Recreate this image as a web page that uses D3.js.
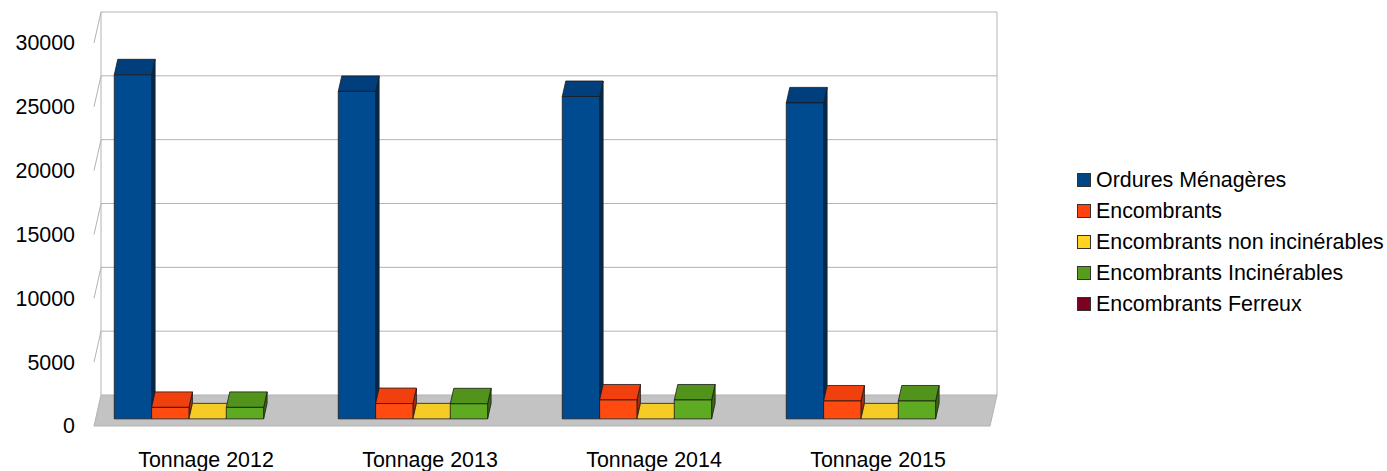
<!DOCTYPE html>
<html>
<head>
<meta charset="utf-8">
<script src="https://cdn.jsdelivr.net/npm/d3@7"></script>
<style>
  html, body { margin: 0; padding: 0; background: #ffffff; }
  svg { display: block; }
  text { font-family: "Liberation Sans", Arial, sans-serif; fill: #000; }
</style>
</head>
<body>
<svg id="chart" width="1387" height="471"></svg>
<script>
const categories = ["Tonnage 2012", "Tonnage 2013", "Tonnage 2014", "Tonnage 2015"];
const seriesNames = ["Ordures Ménagères", "Encombrants", "Encombrants non incinérables", "Encombrants Incinérables", "Encombrants Ferreux"];
const ordures = [26950, 25650, 25250, 24750];
const encombrants = [900, 1200, 1480, 1400];
const nonIncinerables = [0, 0, 0, 0];
const incinerables = [900, 1180, 1480, 1400];
const ferreux = [null, null, null, null];
const yTicks = [0, 5000, 10000, 15000, 20000, 25000, 30000];
const seriesColors = ["#004586", "#ff420e", "#ffd320", "#579d1c", "#7e0021"];

const seriesValues = [ordures, encombrants, nonIncinerables, incinerables, ferreux];

const svg = d3.select("#chart");

// front plane geometry & depth projection
const DX = 7, DY = 31;
const x = d3.scaleBand().domain(categories).range([94, 990]);
const xs = d3.scaleBand().domain(seriesNames).range([0, x.bandwidth()]).paddingInner(0).paddingOuter(0.5);
const y = d3.scaleLinear().domain([0, 30000]).range([426, 43]);
const P = (px, v, d) => [px + d * DX, y(v) - d * DY];
const poly = pts => "M" + pts.map(p => p.join(",")).join("L") + "Z";

const shade = {
  front: ["#004a90", "#ff4a10", "#f6cc24", "#5eaa20", "#7e0021"],
  top:   ["#003f7c", "#f0400e", "#f6cc24", "#52941b", "#6a001c"],
  side:  ["#002a55", "#a82e0a", "#a88a18", "#3a6a12", "#4a0014"]
};

const g = svg.append("g");

// floor
const [xmin, xmax] = x.range();
g.append("path")
  .attr("d", poly([P(xmin, 0, 0), P(xmax, 0, 0), P(xmax, 0, 1), P(xmin, 0, 1)]))
  .attr("fill", "#c3c3c3").attr("stroke", "#b3b3b3").attr("stroke-width", 1);

// back wall gridlines
const grid = g.append("g").attr("stroke", "#b3b3b3").attr("stroke-width", 1).attr("fill", "none");
yTicks.forEach(t => {
  if (t === 0) return;
  const a = P(xmin, t, 1), b = P(xmax, t, 1), c = P(xmin, t, 0);
  grid.append("path").attr("d", `M${c}L${a}L${b}`);
});
grid.append("path").attr("d", `M${P(xmin, 0, 1)}L${P(xmin, 30000, 1)}`);
grid.append("path").attr("d", `M${P(xmax, 0, 1)}L${P(xmax, 30000, 1)}`);

// bars
const D0 = 0.23, D1 = 0.73;
const bars = g.append("g").attr("stroke", "#1a1a1a").attr("stroke-width", 0.8).attr("stroke-linejoin", "round");
categories.forEach((cat, ci) => {
  seriesNames.forEach((s, si) => {
    const v = seriesValues[si][ci];
    if (v === null || v === undefined) return;
    const x0 = x(cat) + xs(s), x1 = x0 + xs.bandwidth();
    bars.append("path").attr("d", poly([P(x1, 0, D0), P(x1, v, D0), P(x1, v, D1), P(x1, 0, D1)]))
      .attr("fill", shade.side[si]);
    bars.append("path").attr("d", poly([P(x0, v, D0), P(x1, v, D0), P(x1, v, D1), P(x0, v, D1)]))
      .attr("fill", shade.top[si]);
    if (v > 0) {
      bars.append("path").attr("d", poly([P(x0, 0, D0), P(x1, 0, D0), P(x1, v, D0), P(x0, v, D0)]))
        .attr("fill", shade.front[si]);
    }
  });
});

// y axis labels (front plane)
const ya = svg.append("g");
yTicks.forEach(t => {
  ya.append("text").attr("x", 75).attr("y", y(t)).attr("dy", "0.35em")
    .attr("text-anchor", "end").style("font-size", "21.4px").text(t);
});

// category labels
categories.forEach(c => {
  svg.append("text").attr("x", x(c) + x.bandwidth() / 2).attr("y", 460).attr("dy", "0.35em")
    .attr("text-anchor", "middle").style("font-size", "21.4px").text(c);
});

// legend
const lg = svg.append("g");
seriesNames.forEach((s, i) => {
  const yy = 180 + i * 31;
  lg.append("rect").attr("x", 1077.5).attr("y", yy - 6.5).attr("width", 13).attr("height", 13)
    .attr("fill", seriesColors[i]).attr("stroke", "#333").attr("stroke-width", 1);
  lg.append("text").attr("x", 1096).attr("y", yy).attr("dy", "0.35em").style("font-size", "21.4px").text(s);
});
</script>
</body>
</html>
